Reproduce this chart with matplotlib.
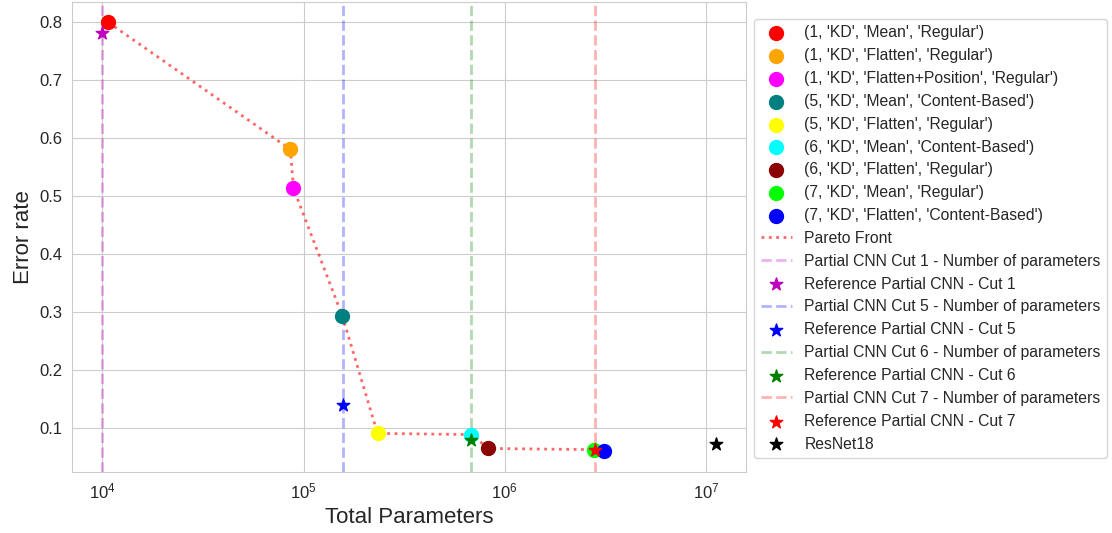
import matplotlib
matplotlib.use("Agg")
import matplotlib.pyplot as plt
import seaborn as sns

sns.set_style("whitegrid")
plt.rcParams['font.family'] = ['Liberation Sans', 'DejaVu Sans']

# Configurations: (cut, loss, aggregation, attention)
configs = [
    "(1, 'KD', 'Mean', 'Regular')",
    "(1, 'KD', 'Flatten', 'Regular')",
    "(1, 'KD', 'Flatten+Position', 'Regular')",
    "(5, 'KD', 'Mean', 'Content-Based')",
    "(5, 'KD', 'Flatten', 'Regular')",
    "(6, 'KD', 'Mean', 'Content-Based')",
    "(6, 'KD', 'Flatten', 'Regular')",
    "(7, 'KD', 'Mean', 'Regular')",
    "(7, 'KD', 'Flatten', 'Content-Based')",
]
config_params = [10700, 86000, 89000, 156000, 233000, 682000, 830000, 2770000, 3110000]
config_errors = [0.800, 0.581, 0.514, 0.293, 0.091, 0.089, 0.065, 0.063, 0.061]
config_colors = ['red', 'orange', 'magenta', 'teal', 'yellow', 'cyan', 'darkred', 'lime', 'blue']

# Reference partial CNNs
cuts = [1, 5, 6, 7]
cut_params = [10000, 157000, 680000, 2800000]
cut_errors = [0.782, 0.140, 0.079, 0.063]
cut_colors = ['m', 'b', 'g', 'r']

resnet_params = 11180000
resnet_error = 0.073

fig, ax = plt.subplots(figsize=(11.12, 5.33), dpi=100)

for label, p, e, c in zip(configs, config_params, config_errors, config_colors):
    ax.scatter(p, e, color=c, s=100, label=label, zorder=3)

# Pareto front over all configurations
order = sorted(range(len(config_params)), key=lambda i: config_params[i])
front_x, front_y = [], []
best = float('inf')
for i in order:
    if config_errors[i] < best:
        best = config_errors[i]
        front_x.append(config_params[i])
        front_y.append(config_errors[i])
ax.plot(front_x, front_y, linestyle=':', color='red', alpha=0.6, linewidth=2, label='Pareto Front', zorder=2)

for cut, p, e, c in zip(cuts, cut_params, cut_errors, cut_colors):
    ax.axvline(p, color=c, linestyle='--', alpha=0.3, linewidth=2,
               label=f'Partial CNN Cut {cut} - Number of parameters')
    ax.scatter(p, e, color=c, marker='*', s=90, label=f'Reference Partial CNN - Cut {cut}', zorder=4)

ax.scatter(resnet_params, resnet_error, color='k', marker='*', s=90, label='ResNet18', zorder=4)

ax.set_xscale('log')
ax.set_xlim(10 ** 3.85, 10 ** 7.2)
ax.set_ylim(0.024, 0.836)
ax.set_xlabel('Total Parameters', fontsize=16)
ax.set_ylabel('Error rate', fontsize=16)
ax.tick_params(axis='both', labelsize=12)
ax.minorticks_off()

ax.legend(loc='upper left', bbox_to_anchor=(1.012, 0.963), fontsize=11.3, borderaxespad=0)

fig.subplots_adjust(left=0.065, right=0.671, top=0.997, bottom=0.114)
fig.savefig('out.png', dpi=100)
